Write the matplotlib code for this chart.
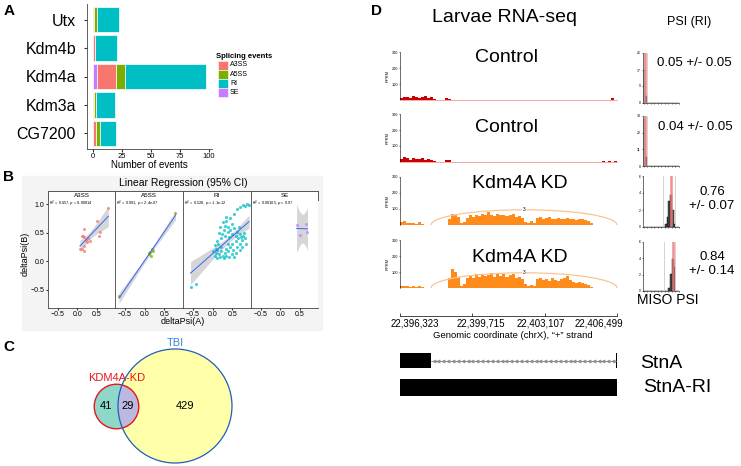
import numpy as np
import matplotlib
matplotlib.use('Agg')
import matplotlib.pyplot as plt
from matplotlib.patches import Rectangle, Circle, Arc
from matplotlib.transforms import ScaledTranslation

plt.rcParams['font.family'] = ['Liberation Sans', 'DejaVu Sans']

# ---------------- data ----------------
# A: splicing events per gene knockdown
genes = ['CG7200', 'Kdm3a', 'Kdm4a', 'Kdm4b', 'Utx']
ev_se = [0, 0, 4, 0, 0]
ev_a3ss = [3, 1, 16, 2, 1]
ev_a5ss = [3, 2, 8, 0, 3]
ev_ri = [14, 16, 70, 19, 19]

# B: deltaPsi(A) vs deltaPsi(B) per event type
a3ss_x = [0.80, 0.50, 0.56, 0.18, 0.13, 0.18, 0.28, 0.26, 0.11, 0.17, 0.07, 0.17, 0.22, 0.34, 0.59, 0.15]
a3ss_y = [0.93, 0.71, 0.44, 0.56, 0.44, 0.43, 0.41, 0.34, 0.21, 0.18, 0.21, 0.27, 0.37, 0.36, 0.52, 0.45]
a5ss_x = [-0.65, 0.78, 0.10, 0.14, 0.18, 0.21, 0.16, 0.12]
a5ss_y = [-0.61, 0.85, 0.12, 0.16, 0.21, 0.18, 0.10, 0.15]
ri_x = [-0.56, -0.42, 0.05, 0.08, 0.10, 0.12, 0.15, 0.18, 0.20, 0.22, 0.05, 0.10, 0.14, 0.25, 0.28,
        0.30, 0.33, 0.35, 0.38, 0.40, 0.42, 0.45, 0.48, 0.50, 0.52, 0.55, 0.58, 0.60, 0.62, 0.65,
        0.20, 0.24, 0.28, 0.30, 0.32, 0.35, 0.38, 0.40, 0.42, 0.45, 0.48, 0.50, 0.55, 0.58, 0.62,
        0.66, 0.70, 0.72, 0.75, 0.78, 0.80, 0.82, 0.85, 0.70, 0.68, 0.75, 0.15, 0.18, 0.25, 0.35,
        0.55, 0.62, 0.70, 0.78, 0.82, 0.88, 0.92, 0.45, 0.08, 0.02]
ri_y = [-0.45, -0.40, 0.10, 0.15, 0.05, 0.20, 0.12, 0.08, 0.25, 0.18, 0.28, 0.35, 0.30, 0.10, 0.05,
        0.15, 0.22, 0.10, 0.30, 0.18, 0.08, 0.25, 0.12, 0.30, 0.20, 0.08, 0.35, 0.15, 0.25, 0.40,
        0.40, 0.48, 0.55, 0.62, 0.45, 0.70, 0.52, 0.60, 0.42, 0.55, 0.66, 0.48, 0.58, 0.45, 0.52,
        0.60, 0.48, 0.42, 0.38, 0.45, 0.50, 0.40, 0.30, 0.30, 0.20, 0.25, 0.50, 0.60, 0.68, 0.78,
        0.82, 0.92, 0.95, 0.98, 0.96, 1.00, 0.98, 0.75, 0.22, 0.18]
se_x = [0.42, 0.67, 0.51, 0.70]
se_y = [0.64, 0.66, 0.46, 0.52]
facet_names = ['A3SS', 'A5SS', 'RI', 'SE']
facet_stats = ['0.657, $p$ = 0.00014', '0.991, $p$ = 2.4e-07', '0.528, $p$ = 1.1e-12', '0.00105, $p$ = 0.97']

# C: overlap of retained introns
venn_only_kd = 41
venn_both = 29
venn_only_tbi = 429

# D: coverage (RPKM) in equal bins across the StnA locus
locus_start, locus_end = 22396323, 22406499
coord_ticks = [22396323, 22399715, 22403107, 22406499]
cov_ctrl1 = [10, 18, 20, 15, 22, 18, 12, 20, 25, 15, 18, 5, 3, 0, 0, 12, 8] + [0] * 53 + [10, 0]
cov_ctrl2 = [20, 30, 25, 15, 25, 20, 18, 22, 15, 20, 12, 5, 0, 0, 0, 15, 10] + [0] * 48 + [3, 0, 4, 0, 5, 0, 6]
cov_kd1 = [18, 22, 12, 10, 14, 8, 16, 6, 0, 2, 3, 0, 0, 2, 0, 3, 40, 70, 65, 50, 10, 20,
           45, 60, 50, 65, 55, 70, 60, 80, 65, 55, 70, 60, 65, 55, 60, 70, 50, 55, 45,
           20, 15, 25, 10, 45, 50, 40, 45, 50, 40, 35, 45, 40, 35, 45, 40, 35,
           30, 40, 35, 30, 25, 10, 0, 0, 0, 0, 0, 0, 0, 2]
cov_kd2 = [15, 10, 12, 8, 10, 5, 12, 8, 0, 3, 2, 0, 0, 3, 0, 2, 60, 120, 100, 70, 15, 25,
           60, 75, 65, 85, 70, 90, 75, 80, 95, 70, 85, 75, 90, 70, 80, 85, 60, 70, 55,
           25, 15, 20, 10, 55, 60, 50, 55, 45, 60, 50, 45, 55, 60, 75, 50, 40,
           30, 35, 30, 25, 20, 5, 0, 0, 0, 0, 0, 0, 0, 3]
junction = (22397780, 22406499)
junction_reads = 3
stna_exons = [(22396323, 22397780), (22406440, 22406499)]
stna_ri_exons = [(22396323, 22406499)]

# MISO PSI histograms (20 bins of 0.05)
miso_hist = [
    [17, 3.5] + [0] * 18,
    [31, 6] + [0] * 18,
    [0] * 12 + [0.3, 1.2, 3.1, 3.8, 2.0, 0.4, 0, 0],
    [0] * 14 + [0.4, 2.1, 3.9, 3.0, 0, 0],
]
miso_yticks = [[0, 9, 17, 26], [0, 11, 22, 33], [0, 2, 4, 6], [0, 2, 4, 6]]
psi_mean = [0.05, 0.04, 0.76, 0.84]
psi_sd = [0.05, 0.05, 0.07, 0.14]
psi_ci_low = [0.0, 0.0, 0.56, 0.58]
psi_ci_high = [0.1, 0.1, 0.90, 0.90]

# ---------------- figure ----------------
W, H = 741, 466
fig = plt.figure(figsize=(W / 100, H / 100), dpi=100)


def box(x0, y0, x1, y1):
    return fig.add_axes([x0 / W, 1 - y1 / H, (x1 - x0) / W, (y1 - y0) / H])


def ftext(x, y, s, **kw):
    kw.setdefault('ha', 'center')
    kw.setdefault('va', 'center')
    fig.text(x / W, 1 - y / H, s, **kw)


pal = {'A3SS': '#F8766D', 'A5SS': '#7CAE00', 'RI': '#00BFC4', 'SE': '#C77CFF'}

# panel letters
ftext(9, 11, 'A', fontsize=11, fontweight='bold')
ftext(9, 177, 'B', fontsize=11, fontweight='bold')
ftext(9, 347, 'C', fontsize=11, fontweight='bold')
ftext(376, 11, 'D', fontsize=11, fontweight='bold')

# ---- A ----
ax = box(87, 4, 212, 149)
ypos = np.arange(len(genes)) + 1
left = np.zeros(len(genes))
for name, vals in [('SE', ev_se), ('A3SS', ev_a3ss), ('A5SS', ev_a5ss), ('RI', ev_ri)]:
    ax.barh(ypos, vals, left=left, height=0.9, color=pal[name], edgecolor='white', lw=0.5)
    left += np.array(vals)
ax.set_xlim(-4.9, 102.9)
ax.set_ylim(0.45, 5.55)
ax.set_yticks(ypos)
ax.set_yticklabels(genes, fontsize=11.5)
ax.set_xticks([0, 25, 50, 75, 100])
ax.tick_params(axis='x', labelsize=5.5, length=2, pad=1, color='#333')
ax.tick_params(axis='y', length=2, pad=6, color='#333')
ax.set_xlabel('Number of events', fontsize=7, labelpad=0)
for s in ['top', 'right']:
    ax.spines[s].set_visible(False)
for s in ['left', 'bottom']:
    ax.spines[s].set_color('#444')
    ax.spines[s].set_linewidth(0.6)

# legend
ftext(216, 56, 'Splicing events', fontsize=5.5, fontweight='bold', ha='left')
for i, name in enumerate(['A3SS', 'A5SS', 'RI', 'SE']):
    yc = 65 + i * 9.2
    fig.patches.append(Rectangle((218 / W, 1 - (yc + 4.5) / H), 10 / W, 9 / H,
                                 transform=fig.transFigure, color=pal[name], ec='white', lw=0.4))
    ftext(230, yc, name, fontsize=5, ha='left')

# ---- B ----
fig.patches.append(Rectangle((22 / W, 1 - 330 / H), 300 / W, 154 / H, transform=fig.transFigure,
                             color='#f4f4f4', zorder=-1))
ftext(183, 183, 'Linear Regression (95% CI)', fontsize=7.5)
T_CRIT = {2: 4.303, 6: 2.447, 14: 2.145, 68: 1.995}


def fit_ci(x, y):
    x = np.asarray(x, float)
    y = np.asarray(y, float)
    n = len(x)
    b, a = np.polyfit(x, y, 1)
    xs = np.linspace(x.min(), x.max(), 80)
    yhat = a + b * xs
    s = np.sqrt(np.sum((y - (a + b * x)) ** 2) / (n - 2))
    sxx = np.sum((x - x.mean()) ** 2)
    se = s * np.sqrt(1 / n + (xs - x.mean()) ** 2 / sxx)
    t = T_CRIT.get(n - 2, 2.0)
    return xs, yhat, yhat - t * se, yhat + t * se


facet_data = [(a3ss_x, a3ss_y), (a5ss_x, a5ss_y), (ri_x, ri_y), (se_x, se_y)]
fx = [48, 115, 183, 251, 318]
for i, name in enumerate(facet_names):
    st = box(fx[i], 191, fx[i + 1], 200)
    st.set_xticks([])
    st.set_yticks([])
    for s in st.spines.values():
        s.set_color('#555')
        s.set_linewidth(0.7)
    st.text(0.5, 0.45, name, transform=st.transAxes, ha='center', va='center', fontsize=4.5)

    fa = box(fx[i], 200, fx[i + 1], 308)
    x, y = facet_data[i]
    xs, yhat, lo, hi = fit_ci(x, y)
    fa.fill_between(xs, lo, hi, color='#bbbbbb', alpha=0.6, lw=0)
    fa.scatter(x, y, s=5, color=pal[name], alpha=0.75, lw=0)
    fa.plot(xs, yhat, color='#3366FF', lw=0.7)
    fa.text(-0.72, 1.0, r'$R^2$ = ' + facet_stats[i], fontsize=2.8, ha='left', va='center')
    fa.set_xlim(-0.75, 0.97)
    fa.set_ylim(-0.814, 1.07)
    fa.set_xticks([-0.5, 0.0, 0.5])
    fa.set_yticks([-0.5, 0.0, 0.5, 1.0])
    fa.tick_params(labelsize=5, length=1.5, pad=1, color='#333')
    if i > 0:
        fa.tick_params(axis='y', labelleft=False, length=0)
    for s in ['top', 'right']:
        fa.spines[s].set_visible(False)
    for s in ['left', 'bottom']:
        fa.spines[s].set_color('#444')
        fa.spines[s].set_linewidth(0.6)
    if i == 0:
        fa.set_ylabel('deltaPsi(B)', fontsize=6.5, labelpad=1)
ftext(183, 322, 'deltaPsi(A)', fontsize=6.5)

# ---- C ----
vc = box(60, 330, 260, 466)
vc.set_xlim(60, 260)
vc.set_ylim(466, 330)
vc.axis('off')
k = 57 / np.sqrt(venn_only_tbi + venn_both)
r_big = k * np.sqrt(venn_only_tbi + venn_both)
r_small = k * np.sqrt(venn_only_kd + venn_both)
c_big = (175, 406)
c_small = (116.5, 406.5)
big = Circle(c_big, r_big, fc='#ffffaa', ec='none', zorder=1)
vc.add_patch(big)
vc.add_patch(Circle(c_small, r_small, fc='#8dd8c8', ec='none', zorder=2))
inter = Circle(c_small, r_small, fc='#bcb8e0', ec='none', zorder=3)
vc.add_patch(inter)
inter.set_clip_path(big)
vc.add_patch(Circle(c_small, r_small, fc='none', ec='#e8141c', lw=1.0, zorder=4))
vc.add_patch(Circle(c_big, r_big, fc='none', ec='#1f5fb8', lw=0.9, zorder=5))
vc.text(106, 406, str(venn_only_kd), fontsize=8, ha='center', va='center', zorder=6)
vc.text(128, 406, str(venn_both), fontsize=8, ha='center', va='center', zorder=6)
vc.text(185, 406, str(venn_only_tbi), fontsize=8, ha='center', va='center', zorder=6)
vc.text(117, 378, 'KDM4A-KD', fontsize=8, color='#e8141c', ha='center', va='center')
vc.text(175, 343, 'TBI', fontsize=8, color='#3b86d6', ha='center', va='center')

# ---- D ----
ftext(505, 18, 'Larvae RNA-seq', fontsize=14)
ftext(689, 22, 'PSI (RI)', fontsize=9)

tracks = [(cov_ctrl1, 52, 100, '#cc0000', 'Control', 507, 57),
          (cov_ctrl2, 114, 162, '#cc0000', 'Control', 507, 128),
          (cov_kd1, 177, 225, '#ff8c1a', 'Kdm4A KD', 520, 183),
          (cov_kd2, 240, 288, '#ff8c1a', 'Kdm4A KD', 520, 258)]
for j, (cov, y0, y1, col, lab, lx, ly) in enumerate(tracks):
    ta = box(400, y0, 617, y1)
    edges = np.linspace(locus_start, locus_end, len(cov) + 1)
    ta.stairs(cov, edges, fill=True, color=col, lw=0)
    ta.set_xlim(locus_start, locus_end)
    ta.set_ylim(0, 300)
    ta.set_xticks([])
    ta.set_yticks([100, 200, 300])
    ta.tick_params(axis='y', labelsize=2.8, length=1, pad=0.5, width=0.4)
    ta.set_ylabel('RPKM', fontsize=3, labelpad=1)
    ta.patch.set_alpha(0)
    for s in ['top', 'right']:
        ta.spines[s].set_visible(False)
    ta.spines['left'].set_linewidth(0.4)
    if j < 2:
        ta.spines['bottom'].set_color('#f4a8a8')
        ta.spines['bottom'].set_linewidth(0.7)
    else:
        ta.spines['bottom'].set_visible(False)
        mid = (junction[0] + junction[1]) / 2
        ta.add_patch(Arc((mid, 0), junction[1] - junction[0], 190, theta1=0, theta2=180,
                         color='#fbc490', lw=0.9, clip_on=False))
        ta.text(mid, 95, str(junction_reads), fontsize=3.5, ha='center', va='center',
                bbox=dict(fc='white', ec='none', pad=0.3))
    ftext(lx, ly, lab, fontsize=14)

# MISO histograms
hist_boxes = [(53, 103), (116, 166), (176, 227), (242, 291)]
bin_edges = np.linspace(0, 1, 21)
for j, (y0, y1) in enumerate(hist_boxes):
    ha_ = box(643, y0, 679, y1)
    ha_.bar(bin_edges[:-1], miso_hist[j], width=0.05, align='edge', color='#555555',
            edgecolor='black', lw=0.3)
    ha_.axvline(psi_ci_low[j], color='#cccccc', lw=0.6)
    ha_.axvline(psi_ci_high[j], color='#cccccc', lw=0.6)
    ha_.axvline(psi_mean[j], color='#f07a7a', lw=1.8, alpha=0.85)
    ha_.set_xlim(-0.02, 1)
    ha_.set_ylim(0, miso_yticks[j][-1])
    ha_.set_yticks(miso_yticks[j])
    ha_.set_xticks(np.linspace(0, 1, 11))
    ha_.tick_params(axis='x', labelbottom=False, length=1, width=0.4)
    ha_.tick_params(axis='y', labelsize=2.5, length=1, pad=0.5, width=0.4)
    for s in ['top', 'right']:
        ha_.spines[s].set_visible(False)
    for s in ['left', 'bottom']:
        ha_.spines[s].set_linewidth(0.4)

ftext(694, 63, f'{psi_mean[0]:.2f} +/- {psi_sd[0]:.2f}', fontsize=9.5)
ftext(695, 127, f'{psi_mean[1]:.2f} +/- {psi_sd[1]:.2f}', fontsize=9.5)
ftext(712, 192, f'{psi_mean[2]:.2f}', fontsize=9.5)
ftext(712, 206, f'+/- {psi_sd[2]:.2f}', fontsize=9.5)
ftext(712, 257, f'{psi_mean[3]:.2f}', fontsize=9.5)
ftext(712, 271, f'+/- {psi_sd[3]:.2f}', fontsize=9.5)
ftext(668, 300, 'MISO PSI', fontsize=10)

# genomic coordinate axis
ga = box(400, 306, 617, 316)
ga.set_xlim(locus_start, locus_end)
ga.set_xticks(coord_ticks)
ga.set_xticklabels([f'{c:,}' for c in coord_ticks], fontsize=7)
ga.tick_params(axis='x', direction='in', length=2, pad=2, width=0.5)
ga.set_yticks([])
ga.patch.set_alpha(0)
for s in ['top', 'right', 'left']:
    ga.spines[s].set_visible(False)
ga.spines['bottom'].set_linewidth(0.5)
# the labels in the original sit a little off their ticks
for lbl, dx in zip(ga.get_xticklabels(), [15, 8, -4, -18]):
    lbl.set_transform(lbl.get_transform() + ScaledTranslation(dx / 100, 0, fig.dpi_scale_trans))
ftext(513, 336, 'Genomic coordinate (chrX), \u201c+\u201d strand', fontsize=6.8)

# gene models
gm = box(400, 350, 617, 399)
gm.set_xlim(locus_start, locus_end)
gm.set_ylim(1.43, -0.39)
gm.axis('off')
for row, exons in enumerate([stna_exons, stna_ri_exons]):
    hgt = 0.56 if row == 0 else 0.63
    for s0, s1 in exons:
        gm.add_patch(Rectangle((s0, row - hgt / 2), s1 - s0, hgt, color='black', lw=0))
    for (a0, a1), (b0, b1) in zip(exons[:-1], exons[1:]):
        gm.plot([a1, b0], [row, row], color='#888888', lw=0.6)
        xs = np.linspace(a1 + 120, b0 - 120, 38)
        gm.plot(xs, [row] * len(xs), ls='none', marker='<', ms=2.2, mfc='none',
                mec='#777777', mew=0.5)
ftext(640, 363, 'StnA', fontsize=14, ha='left')
ftext(643, 388, 'StnA-RI', fontsize=14, ha='left')

fig.savefig('out.png', dpi=100)
